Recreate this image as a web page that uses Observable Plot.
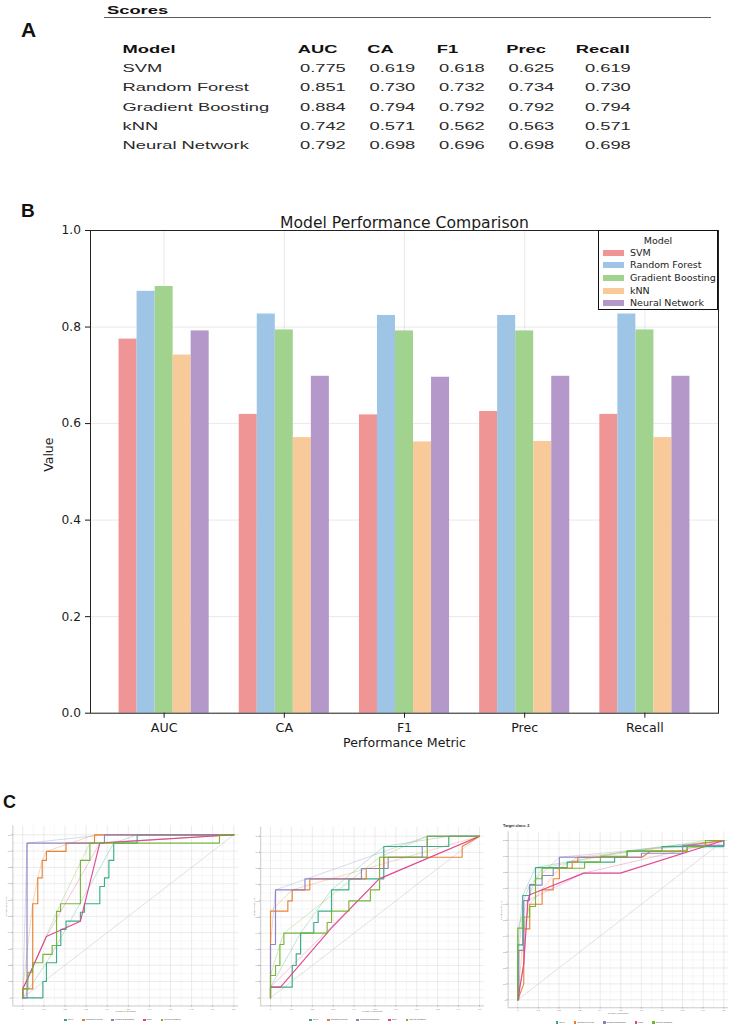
<!DOCTYPE html>
<html><head><meta charset="utf-8">
<script src="https://cdn.jsdelivr.net/npm/d3@7"></script>
<script src="https://cdn.jsdelivr.net/npm/@observablehq/plot@0.6"></script>
<style>
html,body{margin:0;padding:0;background:#fff;}
#page{position:relative;width:738px;height:1034px;overflow:hidden;font-family:"Liberation Sans",Arial,sans-serif;}
.lbl{position:absolute;font-weight:bold;font-family:"Liberation Sans",Arial,sans-serif;color:#111;line-height:1;white-space:nowrap;}
</style></head>
<body><div id="page"></div>
<script>
// ---------- data ----------
const models = ["SVM","Random Forest","Gradient Boosting","kNN","Neural Network"];
const metrics = ["AUC","CA","F1","Prec","Recall"];
// Panel A table
const tableAUC    = [0.775,0.851,0.884,0.742,0.792];
const tableCA     = [0.619,0.730,0.794,0.571,0.698];
const tableF1     = [0.618,0.732,0.792,0.562,0.696];
const tablePrec   = [0.625,0.734,0.792,0.563,0.698];
const tableRecall = [0.619,0.730,0.794,0.571,0.698];
// Panel B bars
const barSVM = [0.775,0.619,0.618,0.625,0.619];
const barRF  = [0.874,0.827,0.824,0.824,0.827];
const barGB  = [0.884,0.794,0.792,0.792,0.794];
const barKNN = [0.742,0.571,0.562,0.563,0.571];
const barNN  = [0.792,0.698,0.696,0.698,0.698];
const yTicks = [0,0.2,0.4,0.6,0.8,1.0];
const barColors = ["#f09595","#9ec4e6","#a2d38e","#f8c999","#b398c9"];
// Panel C ROC curves [FPR, TPR]
const roc1SVM = [[0,0],[0.095,0],[0.095,0.1],[0.112,0.1],[0.112,0.215],[0.16,0.215],[0.16,0.321],[0.18,0.321],[0.18,0.42],[0.205,0.42],[0.205,0.47],[0.273,0.47],[0.273,0.525],[0.292,0.525],[0.292,0.577],[0.365,0.577],[0.365,0.683],[0.387,0.683],[0.387,0.736],[0.408,0.736],[0.408,0.843],[0.431,0.843],[0.431,0.949],[0.542,0.949],[0.542,1],[1,1]];
const roc1RF  = [[0,0],[0,0.055],[0.047,0.055],[0.047,0.577],[0.071,0.577],[0.071,0.736],[0.092,0.736],[0.092,0.843],[0.112,0.843],[0.112,0.898],[0.205,0.898],[0.205,0.949],[0.34,0.949],[0.34,1],[1,1]];
const roc1GB  = [[0,0],[0.02,0],[0.02,0.949],[0.387,0.949],[0.387,1],[1,1]];
const roc1KNN = [[0,0],[0,0.055],[0.024,0.12],[0.112,0.376],[0.273,0.47],[0.365,0.949],[1,1]];
const roc1NN  = [[0,0],[0,0.055],[0.024,0.055],[0.024,0.157],[0.047,0.157],[0.047,0.215],[0.095,0.215],[0.095,0.266],[0.139,0.266],[0.139,0.321],[0.16,0.321],[0.16,0.53],[0.179,0.53],[0.179,0.577],[0.273,0.577],[0.273,0.843],[0.318,0.843],[0.318,0.949],[0.932,0.949],[0.932,1],[1,1]];
const hull1SVM = [[0,0],[0.112,0.215],[0.16,0.321],[0.431,0.949],[0.542,1],[1,1]];
const hull1RF  = [[0,0],[0,0.055],[0.047,0.577],[0.071,0.736],[0.092,0.843],[0.112,0.898],[0.34,1],[1,1]];
const hull1GB  = [[0,0],[0.02,0.949],[0.387,1],[1,1]];
const hull1KNN = [[0,0],[0,0.055],[0.112,0.376],[0.365,0.949],[1,1]];
const hull1NN  = [[0,0],[0,0.055],[0.179,0.577],[0.318,0.949],[1,1]];

const roc2SVM = [[0,0],[0,0.066],[0.104,0.066],[0.104,0.2],[0.123,0.2],[0.123,0.272],[0.144,0.272],[0.144,0.4],[0.207,0.4],[0.207,0.466],[0.228,0.466],[0.228,0.536],[0.292,0.536],[0.292,0.668],[0.375,0.668],[0.375,0.736],[0.542,0.736],[0.542,0.936],[0.853,0.936],[0.853,1],[1,1]];
const roc2RF  = [[0,0],[0,0.536],[0.083,0.536],[0.083,0.6],[0.104,0.6],[0.104,0.668],[0.188,0.668],[0.188,0.736],[0.458,0.736],[0.458,0.8],[0.542,0.8],[0.542,0.87],[0.917,0.87],[0.917,0.936],[1,1]];
const roc2GB  = [[0,0],[0,0.33],[0.024,0.33],[0.024,0.668],[0.165,0.668],[0.165,0.736],[0.435,0.736],[0.435,0.8],[0.563,0.8],[0.563,0.87],[0.726,0.87],[0.726,0.936],[0.75,0.936],[0.75,1],[1,1]];
const roc2KNN = [[0,0],[0,0.066],[0.048,0.066],[0.29,0.43],[0.52,0.736],[1,1]];
const roc2NN  = [[0,0],[0,0.138],[0.024,0.138],[0.024,0.2],[0.045,0.2],[0.045,0.33],[0.064,0.33],[0.064,0.4],[0.271,0.4],[0.271,0.466],[0.292,0.466],[0.292,0.536],[0.375,0.536],[0.375,0.6],[0.478,0.6],[0.478,0.668],[0.522,0.668],[0.522,0.87],[0.75,0.87],[0.75,1],[1,1]];
const hull2SVM = [[0,0],[0,0.066],[0.144,0.4],[0.292,0.668],[0.542,0.936],[0.853,1],[1,1]];
const hull2RF  = [[0,0],[0,0.536],[0.104,0.668],[1,1]];
const hull2GB  = [[0,0],[0,0.33],[0.024,0.668],[0.75,1],[1,1]];
const hull2KNN = [[0,0],[0,0.066],[0.52,0.736],[1,1]];
const hull2NN  = [[0,0],[0,0.138],[0.045,0.33],[0.064,0.4],[0.522,0.87],[0.75,1],[1,1]];

const roc3SVM = [[0,0],[0,0.345],[0.024,0.345],[0.024,0.655],[0.058,0.655],[0.058,0.724],[0.086,0.724],[0.086,0.83],[0.24,0.83],[0.24,0.864],[0.47,0.864],[0.47,0.895],[0.53,0.895],[0.53,0.933],[0.7,0.933],[0.7,0.962],[1,0.962],[1,1]];
const roc3RF  = [[0,0],[0.029,0.1],[0.029,0.445],[0.058,0.445],[0.058,0.6],[0.118,0.6],[0.118,0.69],[0.172,0.69],[0.172,0.76],[0.202,0.76],[0.202,0.826],[0.264,0.826],[0.264,0.864],[0.291,0.864],[0.291,0.895],[0.604,0.895],[0.644,0.933],[0.822,0.933],[0.822,0.969],[1,1]];
const roc3GB  = [[0,0],[0.005,0],[0.005,0.31],[0.029,0.31],[0.029,0.623],[0.057,0.623],[0.057,0.72],[0.118,0.72],[0.118,0.78],[0.172,0.78],[0.172,0.826],[0.202,0.826],[0.202,0.895],[0.6,0.895],[0.6,0.92],[0.8,0.92],[0.8,0.969],[1,0.969],[1,1]];
const roc3KNN = [[0,0],[0.029,0.226],[0.049,0.623],[0.058,0.66],[0.32,0.795],[0.498,0.795],[1,1]];
const roc3NN  = [[0,0],[0,0.45],[0.029,0.45],[0.029,0.52],[0.057,0.52],[0.057,0.586],[0.086,0.586],[0.086,0.76],[0.118,0.76],[0.118,0.826],[0.324,0.826],[0.324,0.864],[0.401,0.864],[0.401,0.9],[0.531,0.9],[0.531,0.933],[0.822,0.933],[0.822,0.962],[0.911,0.962],[0.911,1],[1,1]];
const hull3SVM = [[0,0],[0,0.345],[0.024,0.655],[0.086,0.83],[0.53,0.933],[0.7,0.962],[1,1]];
const hull3RF  = [[0,0],[0.029,0.445],[0.058,0.6],[0.202,0.826],[0.291,0.895],[0.822,0.969],[1,1]];
const hull3GB  = [[0,0],[0.005,0.31],[0.029,0.623],[0.057,0.72],[0.202,0.895],[0.8,0.969],[1,1]];
const hull3KNN = [[0,0],[0.029,0.226],[0.049,0.623],[0.32,0.795],[1,1]];
const hull3NN  = [[0,0],[0,0.45],[0.086,0.76],[0.118,0.826],[0.401,0.9],[0.911,1],[1,1]];
const chanceLine = [[0,0],[1,1]];
const rocTicks = [0,0.1,0.2,0.3,0.4,0.5,0.6,0.7,0.8,0.9,1.0];
const rocMinor = [0.05,0.15,0.25,0.35,0.45,0.55,0.65,0.75,0.85,0.95];
const rocColors = ["#2fa985","#e97b2b","#8781c2","#e23f8d","#70b42f"];

// ---------- helpers ----------
const page = document.getElementById("page");
function put(el, left, top){ el.style.position="absolute"; el.style.left=left+"px"; el.style.top=top+"px"; page.appendChild(el); return el; }
function label(txt, left, top, size){ const d=document.createElement("div"); d.className="lbl"; d.textContent=txt; d.style.fontSize=size+"px"; return put(d,left,top); }

// ---------- Panel A ----------
label("A", 21, 19.2, 21);
const S = 1.58; // horizontal stretch of the table picture
{
  const sc = document.createElement("div");
  sc.textContent = "Scores";
  Object.assign(sc.style,{fontWeight:"bold",fontSize:"11.6px",lineHeight:"1",color:"#111",transform:`scaleX(${S})`,transformOrigin:"0 0",whiteSpace:"nowrap"});
  put(sc, 106.6, 3.5);
  const ln = document.createElement("div");
  Object.assign(ln.style,{width:"607px",height:"0",borderTop:"1.3px solid #5a5a5a"});
  put(ln, 104, 16.6);
}
{
  const tW = 738 / S, tH = 160;
  const tableCols = [tableAUC, tableCA, tableF1, tablePrec, tableRecall];
  const headerCells = ["Model", ...metrics].map((t,c)=>({text:t, col:c}));
  const modelCells = models.map((m,r)=>({text:m, row:r+1}));
  const valueCells = tableCols.flatMap((vals,c)=>vals.map((v,r)=>({text:v.toFixed(3), col:c+1, row:r+1})));
  const colX = c => c === 0 ? -2.521 : c - 1;
  const tbl = Plot.plot({
    width:tW, height:tH, margin:0,
    x:{domain:[-4.273, 6.345], range:[0,tW], axis:null},
    y:{domain:[-2.513, 5.777], range:[0,tH], axis:null},
    style:{fontFamily:"'Liberation Sans', Arial, sans-serif", fontSize:"11.6px", background:"transparent", overflow:"visible"},
    marks:[
      Plot.text(headerCells, {x:d=>colX(d.col), y:()=>0, text:"text", textAnchor:"start", fontWeight:"bold", fill:"#111"}),
      Plot.text(modelCells, {x:()=>colX(0), y:"row", text:"text", textAnchor:"start", fill:"#2a2a2a"}),
      Plot.text(valueCells.filter(d=>d.col<5), {x:d=>colX(d.col), y:"row", text:"text", textAnchor:"end", dx:30.4, fill:"#2a2a2a"}),
      Plot.text(valueCells.filter(d=>d.col===5), {x:d=>colX(d.col), y:"row", text:"text", textAnchor:"end", dx:34.8, fill:"#2a2a2a"})
    ]
  });
  tbl.style.transform = `scaleX(${S})`; tbl.style.transformOrigin = "0 0";
  put(tbl, 0, 0);
}

// ---------- Panel B ----------
label("B", 21, 200.7, 19);
{
  const barSeries = [barSVM, barRF, barGB, barKNN, barNN];
  const barWidth = 0.15;
  const bars = models.flatMap((m,j)=>metrics.map((k,i)=>({model:m, mi:i, j, value:barSeries[j][i]})));
  const bTop = 190, bH = 580, axTop = 230, axBottom = 712.7;
  const idx = metrics.map((_,i)=>i);
  const chart = Plot.plot({
    width:738, height:bH, marginTop:axTop-bTop, marginBottom:bTop+bH-axBottom, marginLeft:90, marginRight:20,
    style:{fontFamily:"'DejaVu Sans', sans-serif", fontSize:"12.4px", color:"#1a1a1a", background:"transparent", overflow:"visible"},
    x:{domain:[-0.6125, 4.6125], axis:null},
    y:{domain:[0,1], axis:null},
    color:{domain:models, range:barColors},
    marks:[
      Plot.gridX(idx, {stroke:"#b0b0b0", strokeOpacity:0.35, strokeWidth:0.8}),
      Plot.gridY(yTicks, {stroke:"#b0b0b0", strokeOpacity:0.35, strokeWidth:0.8}),
      Plot.rectY(bars, {x1:d=>d.mi+(d.j-2.5)*barWidth, x2:d=>d.mi+(d.j-1.5)*barWidth, y1:0, y2:"value", fill:"model", inset:0}),
      Plot.axisX(idx, {tickFormat:i=>metrics[i], tickSize:5, tickPadding:4.8, fontSize:12.6, label:null}),
      Plot.axisY(yTicks, {tickFormat:d3.format(".1f"), tickSize:5, tickPadding:4.5, fontSize:12.2, label:null}),
      Plot.frame({stroke:"#222", strokeWidth:1}),
      Plot.text(["Model Performance Comparison"], {frameAnchor:"top", dy:-13.5, fontSize:15.6, text:d=>d}),
      Plot.text(["Performance Metric"], {frameAnchor:"bottom", dy:33.5, fontSize:12.6, text:d=>d}),
      Plot.text(["Value"], {frameAnchor:"left", dx:-42, rotate:-90, fontSize:12.5, text:d=>d})
    ]
  });
  put(chart, 0, bTop);
  // legend
  const lg = document.createElement("div");
  Object.assign(lg.style,{width:"118px",height:"78px",border:"1.3px solid #111",background:"#fff",fontFamily:"'DejaVu Sans', sans-serif",fontSize:"9.5px",color:"#222"});
  put(lg, 598, 230);
  const t = document.createElement("div");
  t.textContent = "Model";
  Object.assign(t.style,{position:"absolute",left:"0",width:"100%",textAlign:"center",top:"3.5px",lineHeight:"12px"});
  lg.appendChild(t);
  models.forEach((m,j)=>{
    const cy = 21.7 + j*12.65;
    const p = document.createElement("div");
    Object.assign(p.style,{position:"absolute",left:"3.7px",top:(cy-2.9)+"px",width:"21px",height:"5.8px",background:barColors[j]});
    lg.appendChild(p);
    const s = document.createElement("div");
    s.textContent = m;
    Object.assign(s.style,{position:"absolute",left:"31px",top:(cy-6)+"px",lineHeight:"12px",whiteSpace:"nowrap"});
    lg.appendChild(s);
  });
}

// ---------- Panel C ----------
label("C", 3, 792.7, 18);
function rocPanel(cfg, curves, hulls){
  const {L,W,T,H,x0,x1,y1,y0,legendY,target} = cfg;
  const xmin=-0.047, xmax=1.024, ymin=-0.05, ymax=1.055;
  const ppx = x1-x0, ppy = y0-y1;
  const mL = x0 + xmin*ppx - L, mR = L + W - (x0 + xmax*ppx);
  const mT = (y0 - ymax*ppy) - T, mB = T + H - (y0 - ymin*ppy);
  const rows = arr => arr.flatMap((pts,j)=>pts.map(([x,y])=>({model:models[j], x, y})));
  const fmt = v => v === 0 ? "0" : v.toFixed(1);
  const marks = [
    Plot.gridX(rocMinor, {stroke:"#efefef", strokeOpacity:1, strokeWidth:0.5}),
    Plot.gridY(rocMinor, {stroke:"#efefef", strokeOpacity:1, strokeWidth:0.5}),
    Plot.gridX(rocTicks, {stroke:"#dedede", strokeOpacity:1, strokeWidth:0.6}),
    Plot.gridY(rocTicks, {stroke:"#dedede", strokeOpacity:1, strokeWidth:0.6}),
    Plot.line(chanceLine, {stroke:"#d2d2d2", strokeWidth:0.7}),
    Plot.line(rows(hulls), {x:"x", y:"y", z:"model", stroke:"model", strokeWidth:0.6, strokeOpacity:0.5}),
    Plot.line(rows(curves), {x:"x", y:"y", z:"model", stroke:"model", strokeWidth:1.15, strokeOpacity:0.95}),
    Plot.ruleY([ymin], {stroke:"#a8a8a8", strokeWidth:0.6}),
    Plot.ruleX([xmin], {stroke:"#a8a8a8", strokeWidth:0.6}),
    Plot.axisX(rocTicks, {tickFormat:fmt, tickSize:1.2, tickPadding:0.8, fontSize:2.3, stroke:"#a8a8a8", fill:"#666", label:null}),
    Plot.axisY(rocTicks, {tickFormat:fmt, tickSize:1.2, tickPadding:0.8, fontSize:2.3, stroke:"#a8a8a8", fill:"#666", label:null}),
    Plot.text(["FP Rate (1-Specificity)"], {frameAnchor:"bottom", dy:6.3, fontSize:2.1, fill:"#555", text:d=>d}),
    Plot.text(["TP Rate (Sensitivity)"], {frameAnchor:"left", dx:-6.6, rotate:-90, fontSize:2.1, fill:"#555", text:d=>d})
  ];
  if (target) marks.push(Plot.text([target], {frameAnchor:"top-left", dx:-5, dy:-7, textAnchor:"start", fontSize:3.8, fontWeight:"bold", fill:"#222", text:d=>d}));
  const p = Plot.plot({
    width:W, height:H, marginLeft:mL, marginRight:mR, marginTop:mT, marginBottom:mB,
    x:{domain:[xmin,xmax], axis:null},
    y:{domain:[ymin,ymax], axis:null},
    color:{domain:models, range:rocColors},
    style:{fontFamily:"'Liberation Sans', Arial, sans-serif", background:"transparent", overflow:"visible"},
    marks
  });
  put(p, L, T);
  // legend row
  const lg = document.createElement("div");
  Object.assign(lg.style,{width:W+"px",height:"4px",display:"flex",justifyContent:"center",alignItems:"center",gap:"9px",fontSize:"2.4px",lineHeight:"4px",color:"#444"});
  models.forEach((m,j)=>{
    const it = document.createElement("div");
    Object.assign(it.style,{display:"flex",alignItems:"center",gap:"1px"});
    const sq = document.createElement("span");
    Object.assign(sq.style,{display:"inline-block",width:"2.7px",height:"2.7px",background:rocColors[j]});
    const tx = document.createElement("span");
    tx.textContent = m; tx.style.whiteSpace="nowrap";
    it.appendChild(sq); it.appendChild(tx);
    lg.appendChild(it);
  });
  put(lg, L, legendY-2);
}
rocPanel({L:0, W:245, T:812, H:205, x0:22.3, x1:233.3, y1:834.3, y0:997.3, legendY:1020},
  [roc1SVM, roc1RF, roc1GB, roc1KNN, roc1NN], [hull1SVM, hull1RF, hull1GB, hull1KNN, hull1NN]);
rocPanel({L:245, W:245, T:812, H:205, x0:270, x1:479, y1:835.7, y0:997.3, legendY:1020},
  [roc2SVM, roc2RF, roc2GB, roc2KNN, roc2NN], [hull2SVM, hull2RF, hull2GB, hull2KNN, hull2NN]);
rocPanel({L:490, W:248, T:812, H:205, x0:517.3, x1:723.3, y1:840, y0:999.3, legendY:1022.7, target:"Target class: 2"},
  [roc3SVM, roc3RF, roc3GB, roc3KNN, roc3NN], [hull3SVM, hull3RF, hull3GB, hull3KNN, hull3NN]);
</script>
</body></html>
